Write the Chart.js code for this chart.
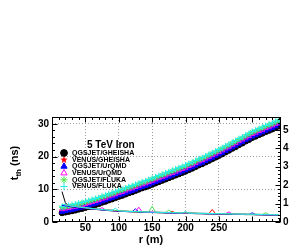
<!DOCTYPE html>
<html>
<head>
<meta charset="utf-8">
<script src="https://cdn.jsdelivr.net/npm/chart.js@4.4.0/dist/chart.umd.min.js"></script>
<style>
html, body { margin: 0; padding: 0; background: #fff; }
#c { display: block; }
</style>
</head>
<body>
<canvas id="c" width="289" height="245"></canvas>
<script>
// core distance r (m)
const R = [
  15, 20, 25, 30, 35, 40, 45, 50, 55, 60,
  65, 70, 75, 80, 85, 90, 95, 100, 105, 110,
  115, 120, 125, 130, 135, 140, 145, 150, 155, 160,
  165, 170, 175, 180, 185, 190, 195, 200, 205, 210,
  215, 220, 225, 230, 235, 240, 245, 250, 255, 260,
  265, 270, 275, 280, 285, 290, 295, 300, 305, 310,
  315, 320, 325, 330, 335, 340
];

// mean arrival time t_th (ns), left axis
const T_QG_GH = [
  2.8, 3.0, 3.2, 3.4, 3.6, 3.9, 4.1, 4.4, 4.7, 5.0,
  5.3, 5.6, 6.0, 6.3, 6.7, 7.0, 7.4, 7.8, 8.1, 8.5,
  8.9, 9.2, 9.6, 10.0, 10.4, 10.7, 11.1, 11.5, 11.9, 12.3,
  12.7, 13.1, 13.5, 13.9, 14.3, 14.7, 15.1, 15.5, 16.0, 16.4,
  16.9, 17.4, 17.8, 18.3, 18.8, 19.3, 19.8, 20.3, 20.8, 21.4,
  21.9, 22.5, 23.0, 23.6, 24.1, 24.7, 25.2, 25.8, 26.2, 26.7,
  27.1, 27.6, 28.0, 28.4, 28.9, 29.3
];
const T_VE_GH = [
  3.4, 3.6, 3.8, 4.0, 4.2, 4.5, 4.7, 5.0, 5.3, 5.6,
  5.9, 6.2, 6.6, 6.9, 7.3, 7.6, 8.0, 8.4, 8.7, 9.1,
  9.5, 9.8, 10.2, 10.6, 11.0, 11.3, 11.7, 12.1, 12.5, 12.9,
  13.3, 13.7, 14.1, 14.5, 14.9, 15.3, 15.7, 16.1, 16.6, 17.0,
  17.5, 18.0, 18.4, 18.9, 19.4, 19.9, 20.4, 20.9, 21.4, 22.0,
  22.5, 23.1, 23.6, 24.2, 24.7, 25.3, 25.8, 26.4, 26.8, 27.3,
  27.7, 28.2, 28.6, 29.0, 29.5, 29.9
];
const T_QG_UR = [
  3.1, 3.3, 3.5, 3.7, 3.9, 4.2, 4.4, 4.7, 5.0, 5.3,
  5.6, 5.9, 6.3, 6.6, 7.0, 7.3, 7.7, 8.1, 8.4, 8.8,
  9.2, 9.5, 9.9, 10.3, 10.7, 11.0, 11.4, 11.8, 12.2, 12.6,
  13.0, 13.4, 13.8, 14.2, 14.6, 15.0, 15.4, 15.8, 16.3, 16.7,
  17.2, 17.7, 18.1, 18.6, 19.1, 19.6, 20.1, 20.6, 21.1, 21.7,
  22.2, 22.8, 23.3, 23.9, 24.4, 25.0, 25.5, 26.1, 26.5, 27.0,
  27.4, 27.9, 28.3, 28.7, 29.2, 29.6
];
const T_VE_UR = [
  3.9, 4.1, 4.3, 4.5, 4.7, 5.0, 5.2, 5.5, 5.8, 6.1,
  6.4, 6.7, 7.1, 7.4, 7.8, 8.1, 8.5, 8.9, 9.2, 9.6,
  10.0, 10.3, 10.7, 11.1, 11.5, 11.8, 12.2, 12.6, 13.0, 13.4,
  13.8, 14.2, 14.6, 15.0, 15.4, 15.8, 16.2, 16.6, 17.1, 17.5,
  18.0, 18.5, 18.9, 19.4, 19.9, 20.4, 20.9, 21.4, 21.9, 22.5,
  23.0, 23.6, 24.1, 24.7, 25.2, 25.8, 26.3, 26.9, 27.3, 27.8,
  28.2, 28.7, 29.1, 29.5, 30.0, 30.4
];
const T_QG_FL = [
  4.4, 4.6, 4.8, 5.0, 5.2, 5.5, 5.7, 6.0, 6.3, 6.6,
  6.9, 7.2, 7.6, 7.9, 8.3, 8.6, 9.0, 9.4, 9.7, 10.1,
  10.5, 10.8, 11.2, 11.6, 12.0, 12.3, 12.7, 13.1, 13.5, 13.9,
  14.3, 14.7, 15.1, 15.5, 15.9, 16.3, 16.7, 17.1, 17.6, 18.0,
  18.5, 19.0, 19.4, 19.9, 20.4, 20.9, 21.4, 21.9, 22.4, 23.0,
  23.5, 24.1, 24.6, 25.2, 25.7, 26.3, 26.8, 27.4, 27.8, 28.3,
  28.7, 29.2, 29.6, 30.0, 30.5, 30.9
];
const T_VE_FL = [
  4.7, 4.9, 5.1, 5.3, 5.5, 5.8, 6.0, 6.3, 6.6, 6.9,
  7.2, 7.5, 7.9, 8.2, 8.6, 8.9, 9.3, 9.7, 10.0, 10.4,
  10.8, 11.1, 11.5, 11.9, 12.3, 12.6, 13.0, 13.4, 13.8, 14.2,
  14.6, 15.0, 15.4, 15.8, 16.2, 16.6, 17.0, 17.4, 17.9, 18.3,
  18.8, 19.3, 19.7, 20.2, 20.7, 21.2, 21.7, 22.2, 22.7, 23.3,
  23.8, 24.4, 24.9, 25.5, 26.0, 26.6, 27.1, 27.7, 28.1, 28.6,
  29.0, 29.5, 29.9, 30.3, 30.8, 31.2
];

// spread of arrival time (right axis)
const S_QG_GH = [
  1.65, 1.05, 0.86, 0.83, 0.80, 0.78, 0.76, 0.74, 0.72, 0.70,
  0.68, 0.67, 0.65, 0.64, 0.62, 0.61, 0.60, 0.58, 0.57, 0.57,
  0.56, 0.55, 0.54, 0.54, 0.53, 0.52, 0.52, 0.51, 0.51, 0.50,
  0.50, 0.49, 0.49, 0.48, 0.48, 0.47, 0.47, 0.47, 0.46, 0.46,
  0.45, 0.45, 0.45, 0.44, 0.44, 0.44, 0.43, 0.43, 0.43, 0.42,
  0.42, 0.42, 0.41, 0.41, 0.41, 0.40, 0.40, 0.40, 0.39, 0.39,
  0.39, 0.38, 0.38, 0.38, 0.37, 0.37
];
const S_VE_GH = [
  0.92, 0.90, 0.87, 0.84, 0.82, 0.80, 0.78, 0.76, 0.74, 0.72,
  0.70, 0.69, 0.67, 0.65, 0.64, 0.63, 0.61, 0.60, 0.59, 0.58,
  0.57, 0.57, 0.56, 0.55, 0.55, 0.54, 0.53, 0.53, 0.52, 0.52,
  0.51, 0.51, 0.50, 0.58, 0.49, 0.49, 0.48, 0.48, 0.48, 0.47,
  0.47, 0.46, 0.46, 0.46, 0.45, 0.68, 0.45, 0.44, 0.44, 0.44,
  0.43, 0.43, 0.43, 0.42, 0.42, 0.42, 0.41, 0.41, 0.41, 0.40,
  0.40, 0.40, 0.39, 0.39, 0.39, 0.38
];
const S_QG_UR = [
  0.90, 0.88, 0.85, 0.83, 0.80, 0.79, 0.77, 0.75, 0.73, 0.71,
  0.69, 0.67, 0.66, 0.64, 0.63, 0.61, 0.60, 0.59, 0.58, 0.57,
  0.56, 0.56, 0.72, 0.54, 0.54, 0.53, 0.53, 0.52, 0.52, 0.51,
  0.51, 0.50, 0.50, 0.49, 0.49, 0.48, 0.48, 0.47, 0.47, 0.47,
  0.46, 0.46, 0.45, 0.45, 0.45, 0.44, 0.44, 0.44, 0.43, 0.43,
  0.43, 0.42, 0.42, 0.42, 0.41, 0.41, 0.41, 0.50, 0.40, 0.40,
  0.39, 0.39, 0.39, 0.38, 0.38, 0.38
];
const S_VE_UR = [
  0.95, 0.93, 0.90, 0.86, 0.84, 0.81, 0.79, 0.77, 0.75, 0.73,
  0.71, 0.69, 0.78, 0.66, 0.65, 0.63, 0.62, 0.61, 0.60, 0.59,
  0.58, 0.57, 0.57, 0.80, 0.55, 0.55, 0.54, 0.54, 0.53, 0.53,
  0.52, 0.52, 0.51, 0.51, 0.50, 0.50, 0.49, 0.49, 0.49, 0.48,
  0.48, 0.47, 0.47, 0.47, 0.46, 0.46, 0.46, 0.45, 0.45, 0.45,
  0.55, 0.44, 0.44, 0.43, 0.43, 0.43, 0.42, 0.42, 0.42, 0.41,
  0.41, 0.41, 0.40, 0.40, 0.40, 0.39
];
const S_QG_FL = [
  0.97, 0.94, 0.90, 0.87, 0.85, 0.82, 0.80, 0.78, 0.76, 0.74,
  0.72, 0.70, 0.68, 0.67, 0.65, 0.64, 0.63, 0.62, 0.61, 0.60,
  0.59, 0.58, 0.57, 0.57, 0.56, 0.55, 0.55, 0.85, 0.54, 0.53,
  0.53, 0.52, 0.65, 0.51, 0.51, 0.50, 0.50, 0.49, 0.49, 0.49,
  0.48, 0.48, 0.47, 0.47, 0.47, 0.46, 0.46, 0.46, 0.45, 0.45,
  0.45, 0.44, 0.44, 0.44, 0.43, 0.43, 0.43, 0.42, 0.42, 0.42,
  0.41, 0.50, 0.41, 0.40, 0.40, 0.40
];
const S_VE_FL = [
  0.96, 0.93, 0.89, 0.86, 0.84, 0.81, 0.79, 0.77, 0.75, 0.73,
  0.71, 0.69, 0.67, 0.66, 0.64, 0.63, 0.75, 0.60, 0.59, 0.58,
  0.57, 0.57, 0.56, 0.55, 0.55, 0.54, 0.54, 0.53, 0.53, 0.52,
  0.52, 0.51, 0.51, 0.50, 0.50, 0.49, 0.49, 0.58, 0.48, 0.48,
  0.47, 0.47, 0.47, 0.46, 0.46, 0.46, 0.45, 0.45, 0.45, 0.44,
  0.44, 0.44, 0.43, 0.43, 0.43, 0.42, 0.42, 0.42, 0.41, 0.41,
  0.41, 0.40, 0.40, 0.40, 0.39, 0.39
];

const X_LABELS = [50, 100, 150, 200, 250];
const Y_LABELS = [0, 10, 20, 30];
const Y2_LABELS = [0, 1, 2, 3, 4, 5];
const X_MAX = 343, Y_MAX = 32.1, Y2_MAX = 5.7;

const FONT = "'Liberation Sans', Arial, Helvetica, sans-serif";

// filled 5-point star (ROOT marker 29)
function starImage(size, color) {
  const cv = document.createElement('canvas');
  cv.width = size; cv.height = size;
  const g = cv.getContext('2d');
  const c = size / 2, ro = size / 2, ri = ro * 0.42;
  g.beginPath();
  for (let k = 0; k < 10; k++) {
    const r = k % 2 ? ri : ro;
    const a = -Math.PI / 2 + k * Math.PI / 5;
    g.lineTo(c + r * Math.cos(a), c + r * Math.sin(a));
  }
  g.closePath();
  g.fillStyle = color;
  g.fill();
  return cv;
}

const series = [
  { label: 'QGSJET/GHEISHA', t: T_QG_GH, s: S_QG_GH, color: '#000000', style: 'circle', fill: true },
  { label: 'VENUS/GHEISHA', t: T_VE_GH, s: S_VE_GH, color: '#ff0000', style: 'star5', fill: true },
  { label: 'QGSJET/UrQMD', t: T_QG_UR, s: S_QG_UR, color: '#0000ff', style: 'triangle', fill: true },
  { label: 'VENUS/UrQMD', t: T_VE_UR, s: S_VE_UR, color: '#ff00ff', style: 'triangle', fill: false },
  { label: 'QGSJET/FLUKA', t: T_QG_FL, s: S_QG_FL, color: '#4ee44e', style: 'star', fill: false },
  { label: 'VENUS/FLUKA', t: T_VE_FL, s: S_VE_FL, color: '#22eeee', style: 'cross', fill: false }
];

function pointStyleOf(sr, big) {
  if (sr.style === 'star5') return starImage(big ? 8 : 7, sr.color);
  return sr.style;
}

const datasets = [];
series.forEach((sr, k) => {
  datasets.push({
    label: sr.label,
    data: R.map((r, i) => ({ x: r, y: sr.t[i] })),
    yAxisID: 'y',
    showLine: false,
    pointStyle: pointStyleOf(sr, false),
    pointRadius: 2.9,
    pointBorderWidth: 1,
    pointBorderColor: sr.color,
    pointBackgroundColor: sr.fill ? sr.color : 'rgba(0,0,0,0)',
    order: 20 - k
  });
});
series.forEach((sr, k) => {
  datasets.push({
    label: sr.label + ' spread',
    data: R.map((r, i) => ({ x: r, y: sr.s[i] })),
    yAxisID: 'y2',
    showLine: true,
    borderColor: sr.color,
    borderWidth: 1,
    pointRadius: 0,
    order: 10 - k
  });
});

const tickFont = { family: FONT, size: 10, weight: 'bold' };

// ROOT-like frame, inner ticks, axis titles and legend
const rootDecor = {
  id: 'rootDecor',
  afterDatasetsDraw(chart) {
    const { ctx, chartArea: a, scales } = chart;
    const L = Math.round(a.left) + 0.5, Rt = Math.round(a.right) - 0.5;
    const T = Math.round(a.top) + 0.5, B = Math.round(a.bottom) - 0.5;
    ctx.save();
    ctx.strokeStyle = '#000';
    ctx.lineWidth = 1;
    ctx.beginPath();
    for (let v = 0; v <= X_MAX; v += 10) {
      const px = Math.round(scales.x.getPixelForValue(v)) + 0.5;
      const len = v % 50 === 0 ? 5 : 2.5;
      ctx.moveTo(px, B); ctx.lineTo(px, B - len);
      ctx.moveTo(px, T); ctx.lineTo(px, T + len);
    }
    for (let v = 0; v <= Y_MAX; v += 2) {
      const py = Math.round(scales.y.getPixelForValue(v)) + 0.5;
      const len = v % 10 === 0 ? 5 : 2.5;
      ctx.moveTo(L, py); ctx.lineTo(L + len, py);
    }
    for (let j = 0; j <= 28; j++) {
      const py = Math.round(scales.y2.getPixelForValue(j * 0.2)) + 0.5;
      const len = j % 5 === 0 ? 5 : 2.5;
      ctx.moveTo(Rt, py); ctx.lineTo(Rt - len, py);
    }
    ctx.stroke();
    ctx.strokeRect(L, T, Rt - L, B - T);
    ctx.restore();
  },
  afterDraw(chart) {
    const { ctx } = chart;
    ctx.save();
    ctx.fillStyle = '#000';

    // x title
    ctx.font = `bold 11px ${FONT}`;
    ctx.textAlign = 'center';
    ctx.textBaseline = 'middle';
    ctx.fillText('r (m)', 151, 240);

    // y title, rotated, with subscript
    ctx.translate(14, 163);
    ctx.rotate(-Math.PI / 2);
    ctx.textAlign = 'left';
    ctx.textBaseline = 'alphabetic';
    const f1 = `bold 11px ${FONT}`, f2 = `bold 8px ${FONT}`;
    ctx.font = f1;
    const w1 = ctx.measureText('t').width, w3 = ctx.measureText(' (ns)').width;
    ctx.font = f2;
    const w2 = ctx.measureText('th').width;
    const x0 = -(w1 + w2 + w3) / 2;
    ctx.font = f1; ctx.fillText('t', x0, 4);
    ctx.font = f2; ctx.fillText('th', x0 + w1, 7);
    ctx.font = f1; ctx.fillText(' (ns)', x0 + w1 + w2, 4);
    ctx.setTransform(1, 0, 0, 1, 0, 0);

    // legend
    ctx.textAlign = 'left';
    ctx.textBaseline = 'middle';
    ctx.font = `bold 10px ${FONT}`;
    ctx.fillText('5 TeV Iron', 87, 145);
    ctx.font = `bold 7px ${FONT}`;
    series.forEach((sr, k) => {
      const y = 153 + k * 6.7;
      ctx.fillStyle = sr.fill ? sr.color : 'rgba(0,0,0,0)';
      ctx.strokeStyle = sr.color;
      ctx.lineWidth = 1;
      Chart.helpers.drawPoint(ctx, {
        pointStyle: pointStyleOf(sr, true),
        radius: sr.style === 'circle' ? 3.4 : 3.6,
        rotation: 0,
        borderWidth: 1
      }, 64, y);
      ctx.fillStyle = '#000';
      ctx.fillText(sr.label, 72, y);
    });
    ctx.restore();
  }
};

new Chart(document.getElementById('c'), {
  type: 'scatter',
  data: { datasets },
  options: {
    responsive: false,
    animation: false,
    devicePixelRatio: 1,
    layout: { padding: { top: 117, left: 0, right: 0, bottom: 0 } },
    plugins: { legend: { display: false }, tooltip: { enabled: false } },
    scales: {
      x: {
        type: 'linear', position: 'bottom', min: 0, max: X_MAX,
        afterFit(s) { s.height = 23; },
        ticks: {
          stepSize: 50, includeBounds: false, autoSkip: false, maxRotation: 0, padding: 0,
          color: '#000', font: tickFont,
          callback: v => X_LABELS.includes(v) ? String(v) : ''
        },
        grid: {
          drawTicks: false, lineWidth: 1,
          color: c => (c.tick && X_LABELS.includes(c.tick.value)) ? '#9a9a9a' : 'rgba(0,0,0,0)'
        },
        border: { display: false, dash: [1, 2] }
      },
      y: {
        position: 'left', min: 0, max: Y_MAX,
        afterFit(s) { s.width = 52; },
        ticks: {
          stepSize: 10, includeBounds: false, autoSkip: false, padding: 3,
          color: '#000', font: tickFont,
          callback: v => Y_LABELS.includes(v) ? String(v) : ''
        },
        grid: {
          drawTicks: false, lineWidth: 1,
          color: c => (c.tick && c.tick.value > 0 && Y_LABELS.includes(c.tick.value)) ? '#9a9a9a' : 'rgba(0,0,0,0)'
        },
        border: { display: false, dash: [1, 2] }
      },
      y2: {
        position: 'right', min: 0, max: Y2_MAX,
        afterFit(s) { s.width = 8; },
        ticks: {
          stepSize: 1, includeBounds: false, autoSkip: false, padding: 2,
          color: '#000', font: tickFont,
          callback: v => Y2_LABELS.includes(v) ? String(v) : ''
        },
        grid: { display: false, drawTicks: false },
        border: { display: false }
      }
    }
  },
  plugins: [rootDecor]
});
</script>
</body>
</html>
